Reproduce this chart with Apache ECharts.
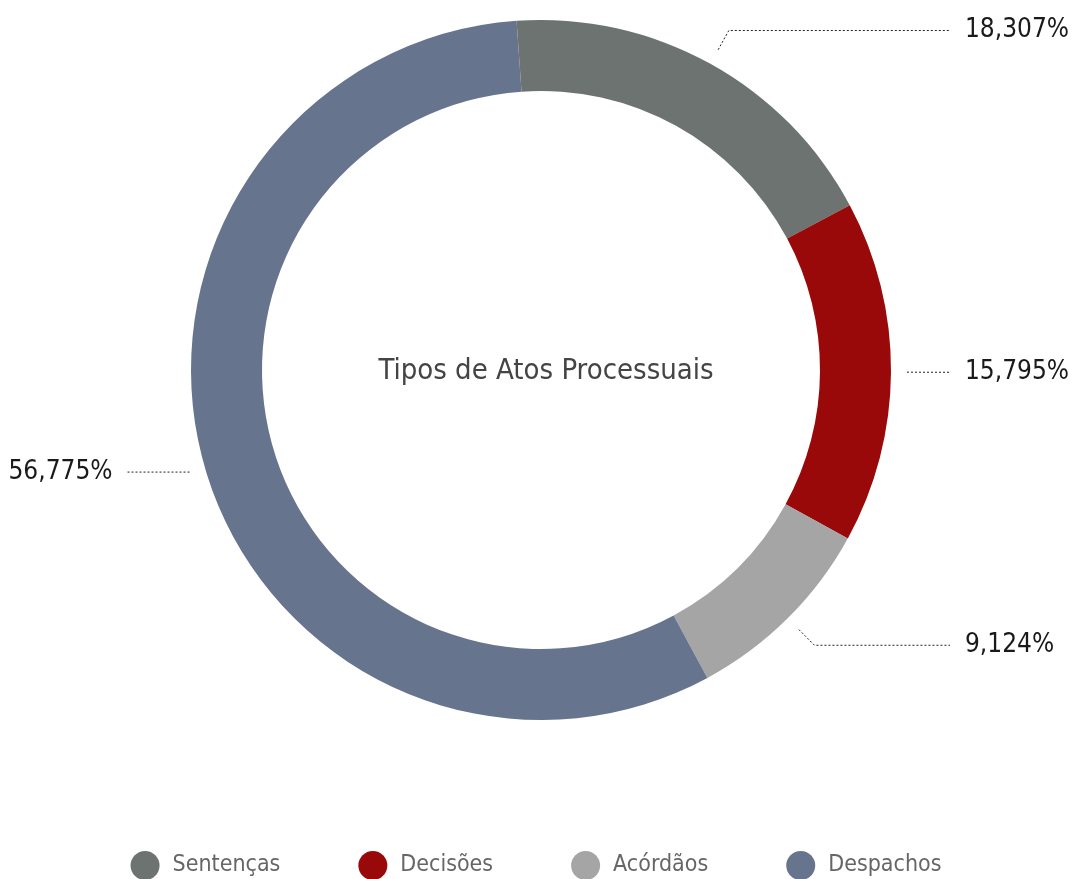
<!DOCTYPE html>
<html>
<head>
<meta charset="utf-8">
<script src="https://cdn.jsdelivr.net/npm/echarts@6/dist/echarts.min.js"></script>
<style>
html,body{margin:0;padding:0;background:#fff;}
#chart{width:1072px;height:879px;}
</style>
</head>
<body>
<div id="chart"></div>
<script>
const categories = ['Sentenças', 'Decisões', 'Acórdãos', 'Despachos'];
const values = [18.307, 15.795, 9.124, 56.775];
const colors = ['#6c7370', '#990909', '#a5a5a5', '#66748e'];
const title = 'Tipos de Atos Processuais';

const FONT = "'Liberation Sans Narrow', 'DejaVu Sans Condensed', Roboto, sans-serif";

// per-slice leader-line tweaks (style only)
const lineOverrides = { 'Despachos': { length: 0, length2: 62 } };

const data = categories.map((c, i) => ({ name: c, value: values[i] }));
const labelData = categories.map((c, i) => {
  const item = { name: c, value: values[i] };
  if (lineOverrides[c]) item.labelLine = lineOverrides[c];
  return item;
});
const fmt = v => v.toFixed(3).replace('.', ',') + '%';

const chart = echarts.init(document.getElementById('chart'));
chart.setOption({
  animation: false,
  color: colors,
  title: {
    text: title,
    left: 541, top: 366,
    textAlign: 'center', textVerticalAlign: 'middle',
    textStyle: { fontFamily: FONT, fontSize: 29, fontWeight: 'normal', color: '#444' }
  },
  legend: {
    left: 'center', top: 846,
    icon: 'circle', itemWidth: 29, itemHeight: 29, itemGap: 78,
    textStyle: { fontFamily: FONT, fontSize: 23, color: '#666', padding: [0, 0, 0, 8] },
    data: categories
  },
  series: [
    {
      type: 'pie',
      center: [541, 370],
      radius: [279, 350],
      startAngle: 94,
      clockwise: true,
      label: { show: false },
      labelLine: { show: false },
      emphasis: { disabled: true },
      data: data
    },
    {
      type: 'pie',
      center: [541, 370],
      radius: [365, 366],
      startAngle: 94,
      clockwise: true,
      silent: true,
      itemStyle: { color: 'rgba(0,0,0,0)' },
      emphasis: { disabled: true },
      label: {
        show: true,
        formatter: p => fmt(p.value),
        fontFamily: FONT, fontSize: 26, color: '#1a1a1a',
        alignTo: 'labelLine',
        bleedMargin: 0,
        overflow: 'none',
        distanceToLabelLine: 15
      },
      labelLine: {
        show: true, length: 22, length2: 21,
        lineStyle: { color: '#222', width: 1, type: [2, 2] }
      },
      data: labelData
    }
  ]
});
</script>
</body>
</html>
